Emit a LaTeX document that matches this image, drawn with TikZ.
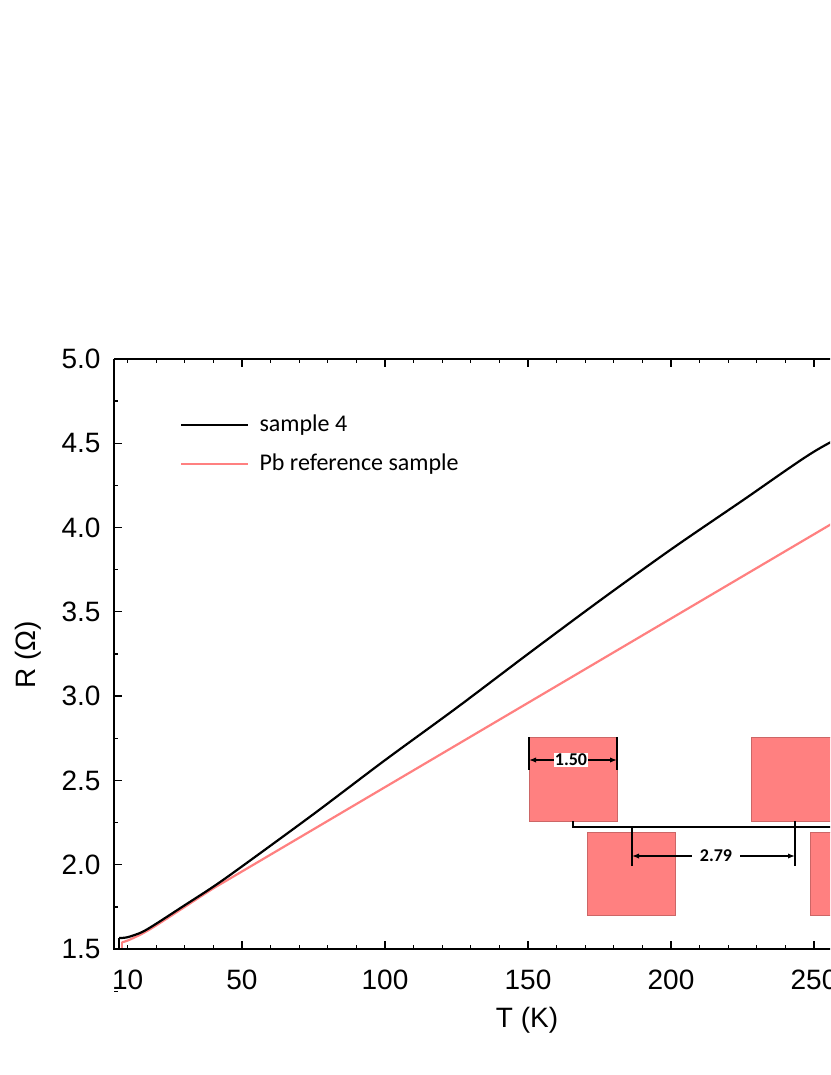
\documentclass[tikz,border=0pt]{standalone}
\usepackage{fontspec}
\setmainfont{Liberation Sans}
\newfontfamily\calib{Carlito}
\usetikzlibrary{arrows.meta}
\definecolor{pbred}{HTML}{FF8080}
\begin{document}
\begin{tikzpicture}[x=1pt,y=-1pt,>=latex,
    tick/.style={line width=1.3pt},
    ticklab/.style={font=\fontsize{28}{28}\selectfont},
    legtext/.style={font=\calib\fontsize{24}{24}\selectfont,anchor=west},
    pad/.style={fill=pbred,draw=pbred!80!black,line width=0.3pt},
    dimlab/.style={font=\calib\bfseries\fontsize{18}{18}\selectfont,fill=white,inner sep=1pt}]
   \useasboundingbox (0,0) rectangle (830,1075);
   \clip (0,0) rectangle (830,1075);
   % 軸ラベル
   \node[ticklab,rotate=90] (ylab) at (28,655) {R (Ω)};
   \node[ticklab] (xlab) at (527,1020) {T (K)};
   % 目盛り (y)
   \foreach \r [count=\i from 0] in {1.5,2.0,2.5,3.0,3.5,4.0,4.5,5.0}{
      \node[ticklab,anchor=east] (yt\i) at (104,949-\i*84.3) {\r};
      \draw[tick] (114,949-\i*84.3) -- +(8,0);
      \draw[tick] (114,949-\i*84.3+42.15) -- +(4,0);
   }
   % 目盛り (x)
   \foreach \t in {10,20,...,290}{
      \draw[tick] (99+\t*2.86,949) -- +(0,-4);
      \draw[tick] (99+\t*2.86,359) -- +(0,4);
   }
   \foreach \t in {50,100,...,250}{
      \draw[tick] (99+\t*2.86,949) -- +(0,-8);
      \draw[tick] (99+\t*2.86,359) -- +(0,8);
   }
   \foreach \t in {10,50,100,150,200,250}
      \node[ticklab,anchor=north] (xt\t) at (99+\t*2.86,966) {\t};
   % データ
   \begin{scope}[shift={(99pt,-1201.9pt)},x=2.86pt,y=168.6pt]
      \draw[pbred,line width=2.2pt] (8,1.50) -- (8,1.54);
      \draw[pbred,line width=2.2pt] plot[smooth] coordinates {(8,1.54) (10,1.55) (15,1.59)
         (20,1.64) (30,1.75) (40,1.86) (50,1.96) (150,2.96) (250,3.96) (300,4.46)};
      \draw[black,line width=2.2pt] (7,1.50) -- (7,1.565);
      \draw[black,line width=2.2pt] plot[smooth] coordinates {(7,1.565) (10,1.57) (15,1.60)
         (20,1.65) (30,1.76) (40,1.87) (50,1.99) (75,2.30) (100,2.62)
         (125,2.93) (150,3.25) (175,3.565) (200,3.87) (225,4.16) (250,4.45) (270,4.63)};
   \end{scope}
   % 枠
   \draw[line width=1.5pt] (114,359) -- (114,949) -- (900,949);
   \draw[line width=1.5pt] (114,359) -- (900,359);
   % 凡例
   \draw[black,line width=2.5pt] (181,425) -- (248,425);
   \node[legtext] (leg1) at (256,425) {sample 4};
   \draw[pbred,line width=2.5pt] (181,464) -- (248,464);
   \node[legtext] (leg2) at (256,464) {Pb reference sample};
   % 挿入図
   \node[pad,minimum width=88,minimum height=84,inner sep=0,anchor=north west] (p1) at (529,737) {};
   \node[pad,minimum width=88,minimum height=83,inner sep=0,anchor=north west] (p2) at (587,832) {};
   \node[pad,minimum width=88,minimum height=84,inner sep=0,anchor=north west] (p3) at (751,737) {};
   \node[pad,minimum width=88,minimum height=83,inner sep=0,anchor=north west] (p4) at (810,832) {};
   \draw[line width=1.2pt] (573,821) -- (573,827) -- (840,827);
   \draw[line width=1.2pt] (632,827) -- (632,866);
   \draw[line width=1.2pt] (795,821) -- (795,866);
   \draw[line width=1.2pt] (529,737) -- (529,770);
   \draw[line width=1.2pt] (617,737) -- (617,770);
   \node[dimlab] (d1) at (571,760) {1.50};
   \draw[-{Latex[length=7pt]},line width=1.2pt] (d1.west) -- (529,760);
   \draw[-{Latex[length=7pt]},line width=1.2pt] (d1.east) -- (617,760);
   \node[dimlab,inner xsep=8pt] (d2) at (716,856) {2.79};
   \draw[-{Latex[length=7pt]},line width=1.2pt] (d2.west) -- (632,856);
   \draw[-{Latex[length=7pt]},line width=1.2pt] (d2.east) -- (795,856);
\end{tikzpicture}
\end{document}
